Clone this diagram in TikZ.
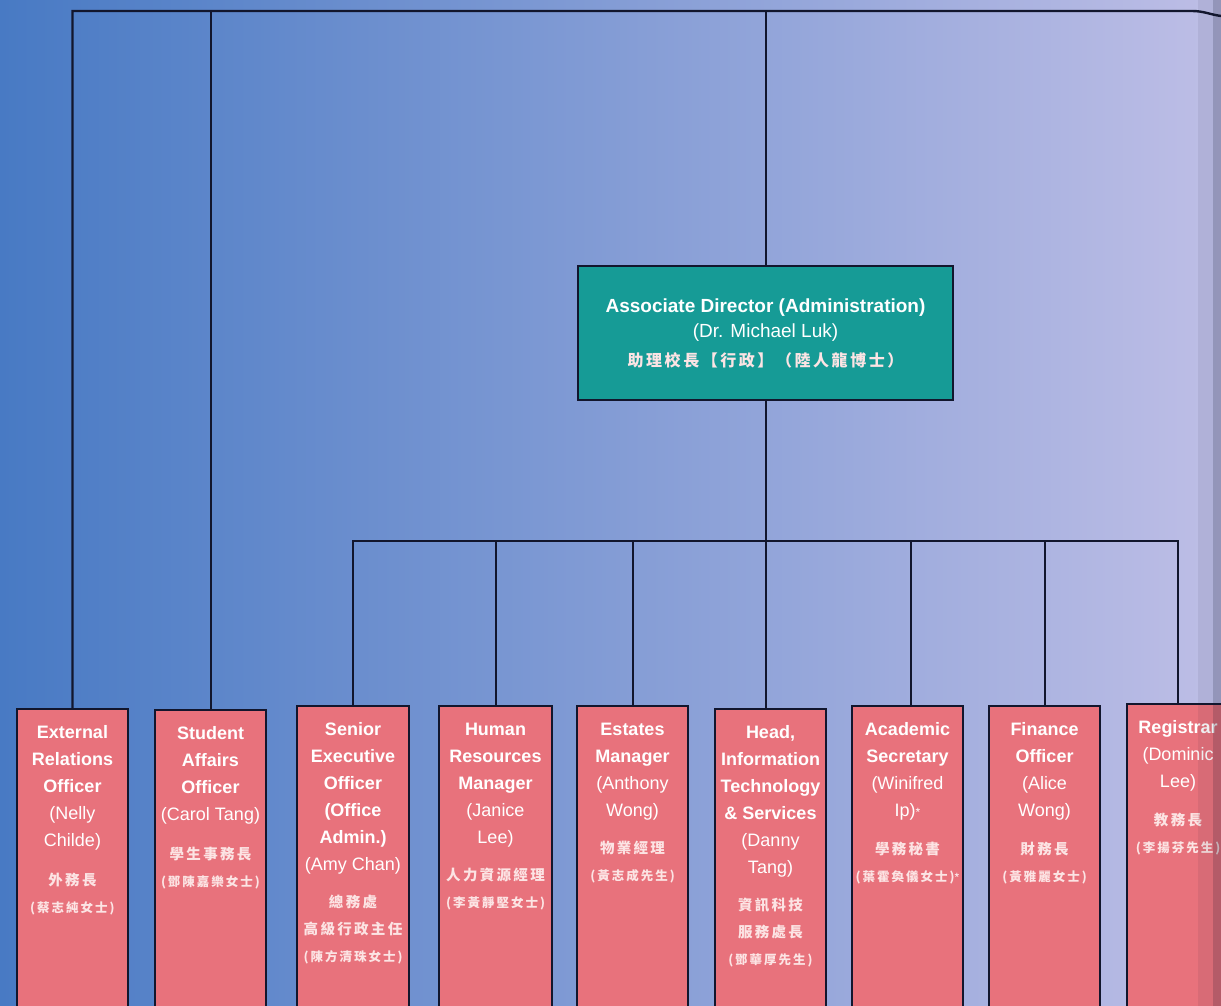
\documentclass[tikz,border=0pt]{standalone}
\usepackage{fontspec}
\setmainfont{Liberation Sans}
\newfontfamily\cjk[LetterSpace=16]{Noto Sans CJK TC}
\definecolor{bgL}{RGB}{72,122,196}
\definecolor{bgM}{RGB}{130,150,210}
\definecolor{bgR}{RGB}{190,190,230}
\definecolor{pinkc}{RGB}{232,114,124}
\definecolor{tealc}{RGB}{22,155,150}
\definecolor{linec}{RGB}{18,22,45}
\definecolor{zhc}{RGB}{252,228,228}
\newcommand\zhA[1]{{\cjk\bfseries\fontsize{14.5}{26}\selectfont\color{zhc}#1}}
\newcommand\zhB[1]{{\cjk\bfseries\fontsize{12.5}{26}\selectfont\color{zhc}#1}}
\newcommand\myast{{\fontsize{12}{12}\selectfont *}}
\tikzset{
  pbox/.style={draw=linec, line width=1.6pt, fill=pinkc, minimum width=111pt, minimum height=340pt, anchor=north, inner sep=0pt},
  adbox/.style={draw=linec, line width=1.6pt, fill=tealc, minimum width=375pt, minimum height=134pt, inner sep=0pt, align=center, text=white, font=\fontsize{19}{25}\selectfont},
  txt/.style={anchor=north, align=center, text=white, inner sep=0pt, font=\fontsize{18}{27}\selectfont},
  conn/.style={draw=linec, line width=2pt},
  topconn/.style={draw=linec, line width=2.4pt}
}
\begin{document}
\begin{tikzpicture}[x=1pt,y=-1pt]
\useasboundingbox (0,0) rectangle (1221,1006);
\clip (0,0) rectangle (1221,1006);
\shade[left color=bgL, middle color=bgM, right color=bgR] (0,0) rectangle (1221,1006);

% coordinates of the bars
\coordinate (topy) at (0,11);
\coordinate (bary) at (0,541);
\coordinate (te) at (1221,16);

% boxes
\node[adbox] (ad) at (765.5,333) {\textbf{Associate Director (Administration)}\\(Dr. Michael Luk)\\[4pt]{\cjk\bfseries\fontsize{16}{25}\selectfont\color{zhc}助理校長【行政】（陸人龍博士）}};

\node[pbox] (er) at (72.5,708) {};
\node[pbox] (sa) at (210.5,709) {};
\node[pbox, minimum width=112pt] (se) at (353,705) {};
\node[pbox, minimum width=113pt] (hr) at (495.5,705) {};
\node[pbox] (es) at (632.5,705) {};
\node[pbox] (it) at (770.5,708) {};
\node[pbox] (as) at (907.5,705) {};
\node[pbox] (fi) at (1044.5,705) {};
\node[pbox, minimum width=102pt] (rg) at (1178,703) {};

% connectors
\draw[topconn] (er.north) |- (1192,11) to[out=0,in=172] (te);
\draw[conn] (sa.north) -- (sa.north |- topy);
\draw[conn] (ad.north) -- (ad.north |- topy);
\draw[conn] (ad.south) -- (ad.south |- it.north);
\draw[conn] (se.north) |- (rg.north |- bary) -- (rg.north);
\draw[conn] (hr.north) -- (hr.north |- bary);
\draw[conn] (es.north) -- (es.north |- bary);
\draw[conn] ([xshift=3.5pt]as.north) -- ([xshift=3.5pt]as.north |- bary);
\draw[conn] (fi.north) -- (fi.north |- bary);

% texts
\node[txt] (ert) at ([yshift=-17.5pt]er.north) {\textbf{External}\\\textbf{Relations}\\\textbf{Officer}\\(Nelly\\Childe)\\[12pt]\zhA{外務長}\\\zhB{(蔡志純女士)}};
\node[txt] (sat) at ([yshift=-17.5pt]sa.north) {\textbf{Student}\\\textbf{Affairs}\\\textbf{Officer}\\(Carol Tang)\\[12pt]\zhA{學生事務長}\\\zhB{(鄧陳嘉樂女士)}};
\node[txt] (set) at ([yshift=-17.5pt]se.north) {\textbf{Senior}\\\textbf{Executive}\\\textbf{Officer}\\\textbf{(Office}\\\textbf{Admin.)}\\(Amy Chan)\\[10pt]\zhA{總務處}\\\zhA{高級行政主任}\\\zhB{(陳方清珠女士)}};
\node[txt] (hrt) at ([yshift=-17.5pt]hr.north) {\textbf{Human}\\\textbf{Resources}\\\textbf{Manager}\\(Janice\\Lee)\\[10pt]\zhA{人力資源經理}\\\zhB{(李黃靜堅女士)}};
\node[txt] (est) at ([yshift=-17.5pt]es.north) {\textbf{Estates}\\\textbf{Manager}\\(Anthony\\Wong)\\[10pt]\zhA{物業經理}\\\zhB{(黃志成先生)}};
\node[txt] (itt) at ([yshift=-17.5pt]it.north) {\textbf{Head,}\\\textbf{Information}\\\textbf{Technology}\\\textbf{\& Services}\\(Danny\\Tang)\\[10pt]\zhA{資訊科技}\\\zhA{服務處長}\\\zhB{(鄧華厚先生)}};
\node[txt] (ast) at ([yshift=-17.5pt]as.north) {\textbf{Academic}\\\textbf{Secretary}\\(Winifred\\Ip)\myast\\[11pt]\zhA{學務秘書}\\\zhB{(葉霍奐儀女士)}\myast};
\node[txt] (fit) at ([yshift=-17.5pt]fi.north) {\textbf{Finance}\\\textbf{Officer}\\(Alice\\Wong)\\[11pt]\zhA{財務長}\\\zhB{(黃雅麗女士)}};
\node[txt] (rgt) at ([yshift=-17.5pt]rg.north) {\textbf{Registrar}\\(Dominic\\Lee)\\[11pt]\zhA{教務長}\\\zhB{(李揚芬先生)}};

% page fold at the right edge
\fill[linec, opacity=0.07] (1198,0) rectangle (1221,1006);
\fill[linec, opacity=0.18] (1213,0) rectangle (1221,1006);
\end{tikzpicture}
\end{document}
